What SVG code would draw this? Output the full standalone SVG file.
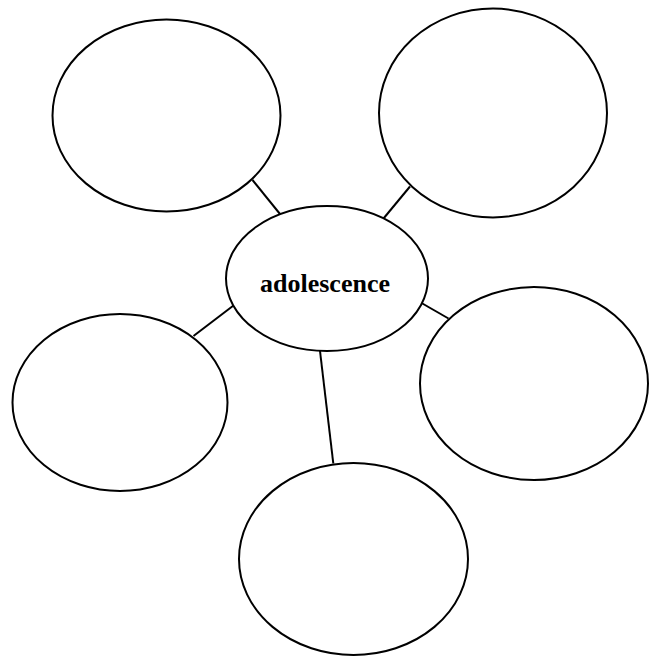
<svg xmlns="http://www.w3.org/2000/svg" width="652" height="656" viewBox="0 0 652 656">
<style>
.n{fill:#fff;stroke:#000;stroke-width:2}
.c line{stroke:#000;stroke-width:2}
.t{font-family:"Liberation Serif","Times New Roman",serif;font-weight:bold;font-size:26px;text-anchor:middle;fill:#000}
</style>
<rect width="652" height="656" fill="#fff"/>
<g id="connectors" class="c">
<line x1="252.5" y1="180" x2="280" y2="214"/>
<line x1="410" y1="186.5" x2="383.5" y2="218.5"/>
<line x1="193.5" y1="336" x2="233.5" y2="305.5"/>
<line x1="421.5" y1="303" x2="448.5" y2="318.5"/>
<line x1="320" y1="351" x2="333.3" y2="463.5"/>
</g>
<g id="node-top-left"><ellipse class="n" cx="166.5" cy="115.5" rx="114" ry="96"/></g>
<g id="node-top-right"><ellipse class="n" cx="493" cy="113" rx="114" ry="104.5"/></g>
<g id="node-center"><ellipse class="n" cx="327" cy="278.5" rx="101" ry="72.5"/>
<text class="t" x="325" y="292">adolescence</text></g>
<g id="node-left"><ellipse class="n" cx="120" cy="402.5" rx="107.5" ry="88.5"/></g>
<g id="node-right"><ellipse class="n" cx="534" cy="383.5" rx="114" ry="96.5"/></g>
<g id="node-bottom"><ellipse class="n" cx="353.5" cy="559" rx="114.5" ry="96"/></g>
</svg>
